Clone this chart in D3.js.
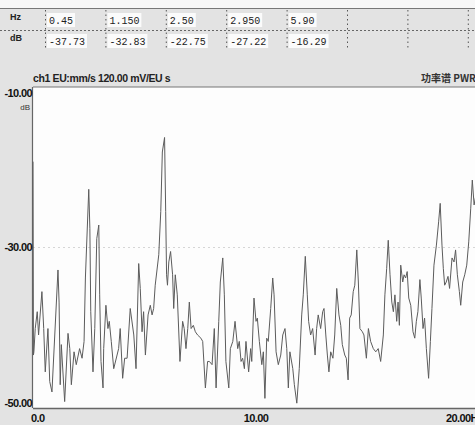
<!DOCTYPE html>
<html lang="en">
<head>
    <meta charset="UTF-8">
    <title>功率谱 PWR</title>
    <script src="https://d3js.org/d3.v7.min.js"></script>
    <style>
        body { margin: 0; background: #e3e3e3; }
        svg { display: block; }
    </style>
</head>
<body>
    <div id="chart"></div>

    <script>
        // marker readout table
        var markerHz = ["0.45", "1.150", "2.50", "2.950", "5.90"];
        var markerDb = ["-37.73", "-32.83", "-22.75", "-27.22", "-16.29"];

        // spectrum trace: frequency (Hz) and level (dB)
        var freq = [0, 0.02, 0.04, 0.10, 0.19, 0.25, 0.40, 0.48, 0.55, 0.67, 0.75, 0.85,
            1.12, 1.17, 1.22, 1.27, 1.42, 1.57, 1.65, 1.72, 1.84, 1.94, 2.09, 2.20, 2.29, 2.35,
            2.50, 2.55, 2.59, 2.69, 2.77, 2.86, 2.95, 2.99, 3.05, 3.14, 3.17, 3.27, 3.36, 3.42,
            3.51, 3.62, 3.77, 3.84, 3.91, 4.02, 4.11, 4.22, 4.36, 4.52, 4.62, 4.74, 4.81, 4.89,
            4.96, 5.04, 5.16, 5.26, 5.34, 5.41, 5.48, 5.64, 5.73, 5.80, 5.90, 5.95, 5.99, 6.03,
            6.09, 6.17, 6.26, 6.31, 6.38, 6.47, 6.59, 6.71, 6.78, 6.86, 6.94, 7.01, 7.09, 7.19,
            7.28, 7.38, 7.53, 7.61, 7.73, 7.83, 7.91, 8.03, 8.13, 8.21, 8.33, 8.40, 8.51, 8.58,
            8.65, 8.78, 8.85, 8.96, 9.06, 9.18, 9.25, 9.33, 9.40, 9.48, 9.55, 9.67, 9.76, 9.81,
            9.91, 10.00, 10.06, 10.15, 10.26, 10.33, 10.40, 10.48, 10.55, 10.66, 10.75, 10.81,
            10.90, 11.00, 11.11, 11.20, 11.30, 11.38, 11.45, 11.52, 11.65, 11.72, 11.83, 11.94,
            12.05, 12.12, 12.21, 12.30, 12.36, 12.45, 12.54, 12.65, 12.72, 12.79, 12.90, 12.99,
            13.05, 13.13, 13.20, 13.27, 13.35, 13.45, 13.53, 13.62, 13.72, 13.80, 13.87, 13.98,
            14.05, 14.13, 14.20, 14.27, 14.36, 14.43, 14.52, 14.59, 14.66, 14.77, 14.84, 14.95,
            15.04, 15.14, 15.26, 15.37, 15.48, 15.59, 15.71, 15.78, 15.86, 15.93, 16.01, 16.09,
            16.16, 16.23, 16.31, 16.37, 16.43, 16.49, 16.58, 16.64, 16.71, 16.78, 16.85, 16.94,
            17.04, 17.12, 17.19, 17.26, 17.35, 17.41, 17.49, 17.56, 17.64, 17.74, 17.82, 17.89,
            17.98, 18.09, 18.19, 18.26, 18.34, 18.40, 18.46, 18.53, 18.61, 18.68, 18.79, 18.88,
            18.95, 19.03, 19.12, 19.18, 19.27, 19.36, 19.45, 19.54, 19.63, 19.70, 19.78, 19.86];
        var level = [-19.3, -43.4, -43.0, -40.1, -38.0, -40.9, -35.5, -40.1, -45.5, -40.1, -46.7, -48.0,
            -32.8, -36.8, -47.1, -42.1, -49.2, -40.7, -42.6, -47.1, -43.0, -44.6, -42.6, -43.8, -41.7, -33.8,
            -22.75, -27.6, -38.0, -45.5, -40.1, -28.9, -27.2, -35.9, -44.2, -47.5, -42.6, -37.2, -40.1, -39.2,
            -41.7, -45.1, -43.4, -42.6, -40.1, -46.3, -43.8, -43.8, -37.6, -40.9, -45.1, -32.0, -35.1, -40.5,
            -38.0, -43.4, -38.4, -37.2, -38.4, -37.6, -34.7, -30.9, -25.5, -18.1, -16.29, -25.5, -33.4, -34.7,
            -31.8, -30.5, -33.4, -37.6, -33.4, -35.9, -44.2, -39.2, -40.1, -42.6, -40.1, -36.8, -40.1, -39.7,
            -40.5, -40.9, -41.3, -41.7, -47.5, -44.2, -44.2, -44.6, -40.1, -47.5, -39.2, -34.3, -31.3, -35.9,
            -44.2, -47.5, -42.6, -41.7, -39.2, -42.6, -41.7, -44.2, -43.8, -45.1, -41.7, -45.5, -42.6, -44.2,
            -36.3, -39.2, -38.8, -41.7, -44.6, -43.0, -48.8, -41.3, -41.7, -37.6, -33.8, -35.9,
            -43.0, -44.6, -43.4, -40.9, -40.1, -42.6, -47.5, -43.0, -45.1, -47.1, -49.4, -45.1,
            -38.4, -35.9, -31.1, -35.9, -39.2, -40.9, -40.1, -43.4, -40.1, -38.4, -40.1, -38.0,
            -37.6, -40.9, -43.4, -45.5, -43.0, -43.8, -40.9, -35.1, -38.4, -39.7, -42.1, -43.4,
            -43.8, -46.5, -38.8, -38.4, -35.5, -34.7, -30.3, -34.3, -40.1, -40.5, -40.9, -43.8,
            -40.1, -41.7, -42.6, -43.0, -42.6, -44.2, -40.9, -35.9, -32.6, -29.1, -33.4, -36.8,
            -38.0, -35.9, -39.2, -36.8, -39.7, -32.2, -34.3, -33.4, -33.8, -33.0, -36.3, -37.2,
            -40.5, -41.3, -39.2, -38.0, -34.0, -36.3, -40.1, -38.8, -42.6, -46.3, -41.7, -37.6,
            -32.2, -29.7, -26.8, -24.5, -29.7, -32.6, -34.7, -34.3, -33.6, -35.1, -31.3, -31.8,
            -30.3, -33.4, -35.5, -37.2, -34.3, -33.4, -32.2, -29.3, -25.1, -21.6, -24.7, -23.5];

        // axis ticks
        var yTicks = [-10, -30, -50];
        var yTickLabels = ["-10.00", "-30.00", "-50.00"];
        var xTicks = [0, 10, 20];
        var xTickLabels = ["0.0", "10.00", "20.00Hz"];

        var width = 475;
        var height = 425;
        var plotLeft = 33, plotTop = 87, plotBottom = 408;

        var x = d3.scaleLinear().domain([0, 20]).range([plotLeft, 479]);
        var y = d3.scaleLinear().domain([-50, -10]).range([plotBottom, plotTop]);

        var svg = d3.select('#chart').append('svg')
            .attr('width', width)
            .attr('height', height)
            .style('background', '#e3e3e3');

        // top strip above the table
        svg.append('rect').attr('x', 0).attr('y', 0).attr('width', width).attr('height', 8).attr('fill', '#f7f7f7');
        svg.append('line').attr('x1', 0).attr('x2', width).attr('y1', 8.5).attr('y2', 8.5)
            .attr('stroke', '#777').attr('stroke-width', 1.2);

        // ---- marker table ----
        var col = d3.scaleLinear().domain([0, 1]).range([45, 105.4]);
        var table = svg.append('g');

        table.append('line')
            .attr('x1', 0).attr('x2', width).attr('y1', 30.5).attr('y2', 30.5)
            .attr('stroke', '#666').attr('stroke-dasharray', '2,2');

        table.selectAll('line.sep')
            .data(d3.range(8))
            .enter().append('line')
                .attr('class', 'sep')
                .attr('x1', d => col(d) + 0.5).attr('x2', d => col(d) + 0.5)
                .attr('y1', 10).attr('y2', 50)
                .attr('stroke', '#555').attr('stroke-dasharray', '1.5,3');

        table.append('text').attr('x', 10).attr('y', 20).text('Hz')
            .attr('font-family', 'Liberation Sans, sans-serif').attr('font-size', 9)
            .attr('font-weight', 'bold').attr('fill', '#222');
        table.append('text').attr('x', 10).attr('y', 41).text('dB')
            .attr('font-family', 'Liberation Sans, sans-serif').attr('font-size', 9)
            .attr('font-weight', 'bold').attr('fill', '#222');

        function cells(vals, yy) {
            var g = table.append('g');
            g.selectAll('rect')
                .data(vals)
                .enter().append('rect')
                    .attr('x', (d, i) => col(i) + 2)
                    .attr('y', yy - 11)
                    .attr('width', d => d.length * 6 + 4)
                    .attr('height', 14)
                    .attr('fill', '#fbfbfb');
            g.selectAll('text')
                .data(vals)
                .enter().append('text')
                    .attr('x', (d, i) => col(i) + 4)
                    .attr('y', yy)
                    .text(d => d)
                    .attr('font-family', 'Liberation Mono, monospace')
                    .attr('font-size', 10)
                    .attr('fill', '#222');
        }
        cells(markerHz, 24);
        cells(markerDb, 45);

        // ---- titles ----
        var narrow = 'Liberation Sans Narrow, Arial Narrow, sans-serif';

        svg.append('text').attr('x', 33).attr('y', 82)
            .text('ch1  EU:mm/s  120.00 mV/EU  s')
            .attr('font-family', narrow).attr('font-weight', 'bold')
            .attr('font-size', 10.5).attr('fill', '#222')
            .attr('letter-spacing', '-0.7')
            .attr('textLength', 137);

        svg.append('text').attr('x', 421).attr('y', 82)
            .text('功率谱 PWR')
            .attr('font-family', 'Noto Sans CJK SC, sans-serif').attr('font-weight', 'bold')
            .attr('font-size', 10).attr('fill', '#333');

        // ---- plot area ----
        svg.append('rect')
            .attr('x', plotLeft).attr('y', plotTop)
            .attr('width', width - plotLeft).attr('height', plotBottom - plotTop)
            .attr('fill', '#fdfdfd');

        // faint grid line at -30
        svg.append('line')
            .attr('x1', plotLeft).attr('x2', width)
            .attr('y1', y(-30)).attr('y2', y(-30))
            .attr('stroke', '#d6d6d6').attr('stroke-dasharray', '2,3');

        // frame
        svg.append('line').attr('x1', plotLeft).attr('x2', width).attr('y1', plotTop).attr('y2', plotTop)
            .attr('stroke', '#777').attr('stroke-width', 1.2);
        svg.append('line').attr('x1', plotLeft).attr('x2', width).attr('y1', plotBottom + 0.5).attr('y2', plotBottom + 0.5)
            .attr('stroke', '#666').attr('stroke-width', 1.5);
        svg.append('line').attr('x1', plotLeft - 0.5).attr('x2', plotLeft - 0.5).attr('y1', plotTop).attr('y2', plotBottom)
            .attr('stroke', '#666').attr('stroke-width', 1.2);

        // spectrum line
        var pts = freq.map((f, i) => [f, level[i]]);
        var line = d3.line().x(d => x(d[0])).y(d => y(d[1]));

        svg.append('path')
            .datum(pts)
            .attr('d', line)
            .attr('fill', 'none')
            .attr('stroke', '#5c5c5c')
            .attr('stroke-width', 1)
            .attr('stroke-linejoin', 'round');

        // y tick labels
        svg.selectAll('text.ytick')
            .data(yTicks)
            .enter().append('text')
                .attr('class', 'ytick')
                .attr('x', plotLeft - 1)
                .attr('y', d => y(d))
                .attr('dy', (d, i) => i == 0 ? '0.9em' : (i == yTicks.length - 1 ? '-0.1em' : '0.35em'))
                .attr('text-anchor', 'end')
                .text((d, i) => yTickLabels[i])
                .attr('font-family', narrow).attr('font-weight', 'bold')
                .attr('font-size', 11).attr('fill', '#111')
                .attr('letter-spacing', '-0.6');

        svg.append('text').attr('x', plotLeft - 3).attr('y', 110).attr('text-anchor', 'end')
            .text('dB').attr('font-family', narrow)
            .attr('font-size', 8).attr('fill', '#333');

        // x tick labels
        svg.selectAll('text.xtick')
            .data(xTicks)
            .enter().append('text')
                .attr('class', 'xtick')
                .attr('x', (d, i) => i == 0 ? x(d) - 2 : (i == 1 ? x(d) : 446))
                .attr('y', 422)
                .attr('text-anchor', (d, i) => i == 1 ? 'middle' : 'start')
                .text((d, i) => xTickLabels[i])
                .attr('font-family', narrow).attr('font-weight', 'bold')
                .attr('font-size', 11).attr('fill', '#111')
                .attr('letter-spacing', '-0.6');
    </script>
</body>
</html>
